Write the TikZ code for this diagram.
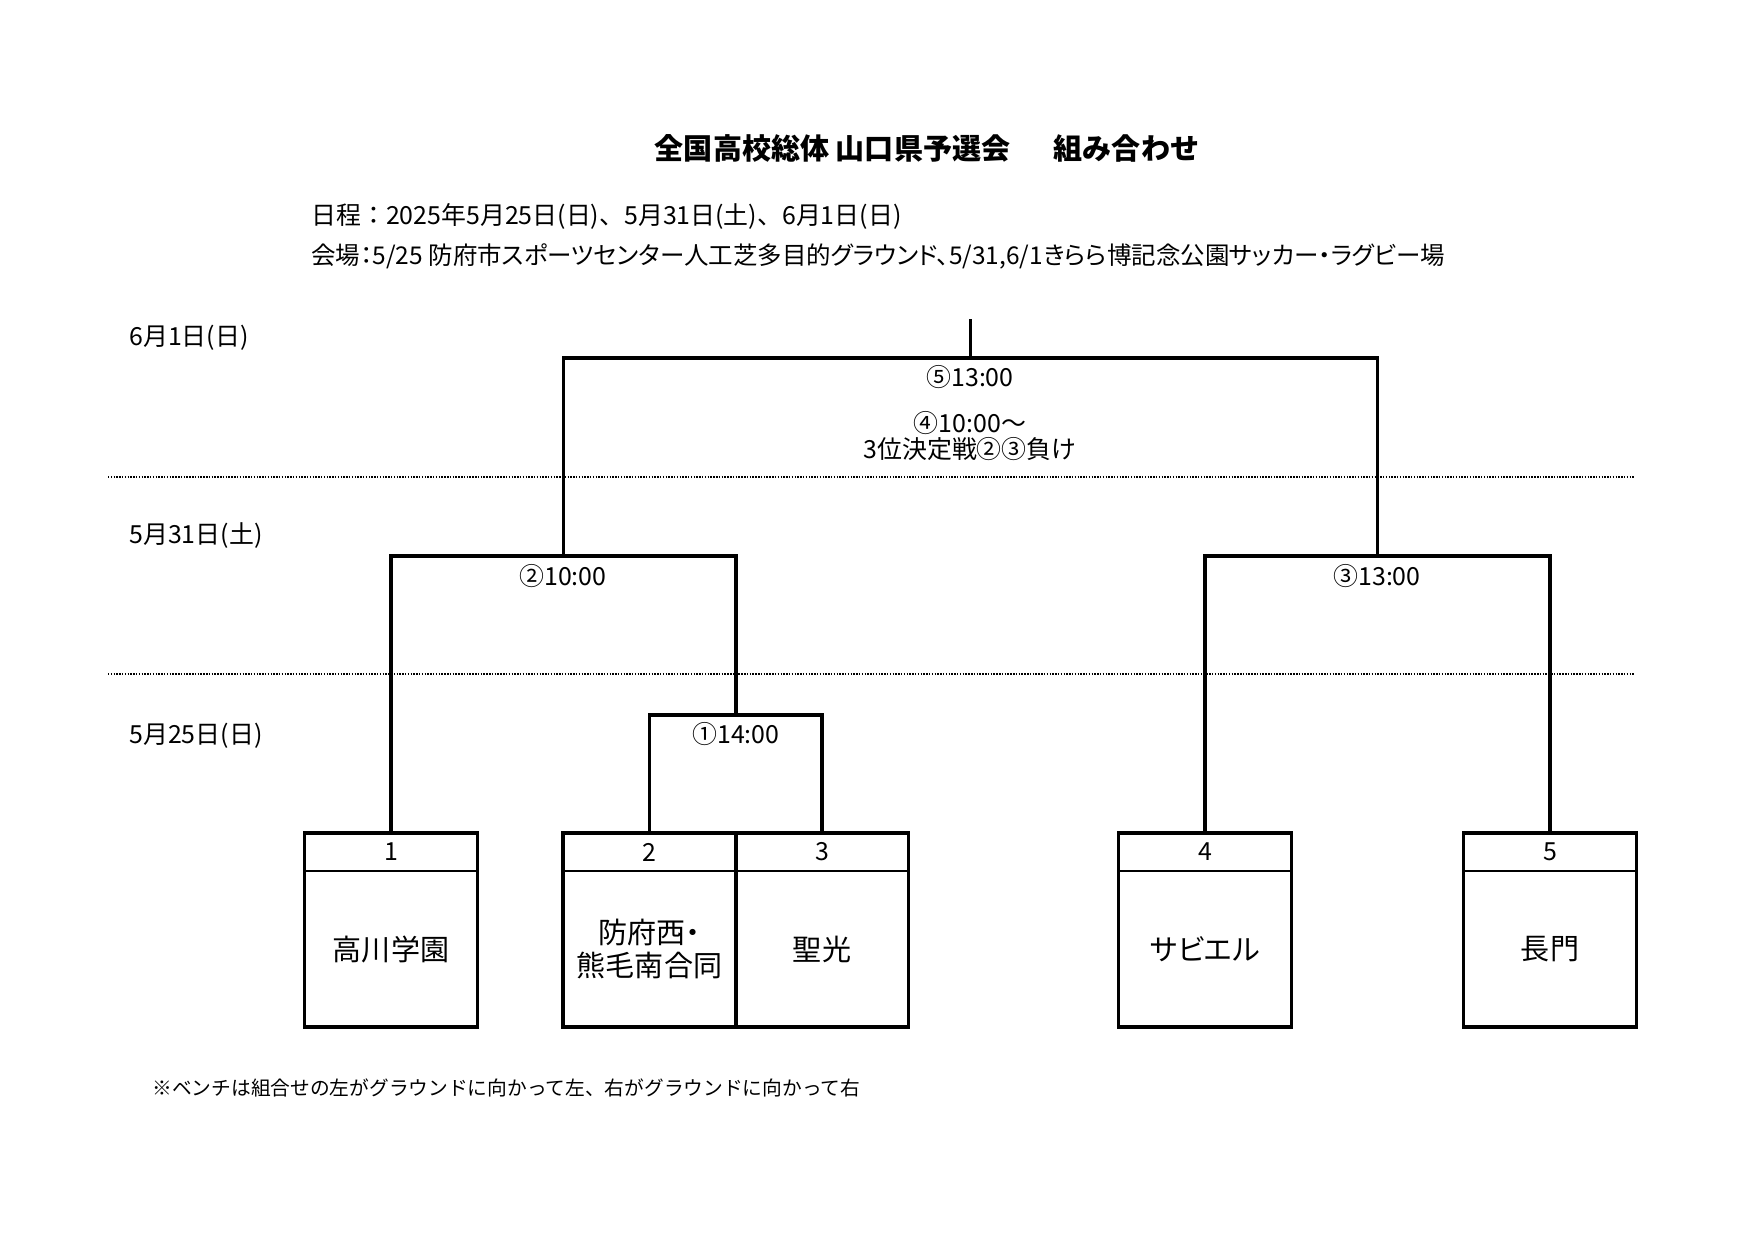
\documentclass[tikz,border=0pt]{standalone}
\usepackage{fontspec}
\setmainfont{Noto Sans CJK JP}
\newfontfamily\palt[RawFeature=+palt]{Noto Sans CJK JP}
\usetikzlibrary{positioning}
\tikzset{
  bline/.style={line width=1.8pt},
  divline/.style={line width=1.2pt},
  dotline/.style={line width=1.1pt,dash pattern=on 0.7pt off 0.65pt},
  hdr/.style={minimum width=29.29mm,minimum height=6.43mm,inner sep=0pt,outer sep=0pt,font=\fontsize{12}{14}\selectfont},
  team/.style={minimum width=29.29mm,minimum height=26.42mm,inner sep=0pt,outer sep=0pt,align=center,font=\fontsize{14}{16.3}\selectfont},
  lbl/.style={inner sep=0pt,font=\fontsize{12}{14}\selectfont},
}
\begin{document}
\begin{tikzpicture}[x=0.16933mm,y=-0.16933mm]
\useasboundingbox (0,0) rectangle (1754,1240);
\node[inner sep=0pt,font=\bfseries\fontsize{14}{16}\selectfont] (title) at (927,148) {全国高校総体 山口県予選会\hspace{1.5em}組み合わせ};
\node[lbl,anchor=west] (sched) at (311,216) {日程：2025年5月25日(日)、5月31日(土)、6月1日(日)};
\node[lbl,anchor=west,font=\palt\fontsize{11.8}{14}\selectfont] (venue) at (311,256) {会場：5/25 防府市スポーツセンター人工芝多目的グラウンド、5/31,6/1きらら博記念公園サッカー・ラグビー場};
\node[lbl,anchor=west] (day3) at (129,338) {6月1日(日)};
\node[lbl,anchor=west] (day2) at (129,536) {5月31日(土)};
\node[lbl,anchor=west] (day1) at (129,736) {5月25日(日)};
\draw[dotline] (108,477) -- (1635,477);
\draw[dotline] (108,674) -- (1635,674);
\node[hdr] (h1) at (391,852) {1};
\node[team,below=0pt of h1] (t1) {高川学園};
\node[hdr] (h2) at (649.5,852) {2};
\node[team,below=0pt of h2] (t2) {防府西{\palt ・}\\熊毛南合同};
\node[hdr] (h3) at (822,852) {3};
\node[team,below=0pt of h3] (t3) {聖光};
\node[hdr] (h4) at (1205,852) {4};
\node[team,below=0pt of h4,font=\palt\fontsize{14}{16.3}\selectfont] (t4) {サビエル};
\node[hdr] (h5) at (1550,852) {5};
\node[team,below=0pt of h5] (t5) {長門};
\draw[bline] (h1.north west) rectangle (t1.south east);
\draw[bline] (h2.north west) rectangle (t2.south east);
\draw[bline] (h3.north west) rectangle (t3.south east);
\draw[bline] (h4.north west) rectangle (t4.south east);
\draw[bline] (h5.north west) rectangle (t5.south east);
\draw[divline] (h1.south west) -- (h1.south east);
\draw[divline] (h2.south west) -- (h3.south east);
\draw[divline] (h4.south west) -- (h4.south east);
\draw[divline] (h5.south west) -- (h5.south east);
\coordinate (m1) at (735.75,715);
\coordinate (m2) at (563.4,556);
\coordinate (m3) at (1377.5,556);
\coordinate (m5) at (970.4,358);
\coordinate (top) at (970.4,319);
\draw[bline] (h2.north) |- (m1) -| (h3.north);
\draw[bline] (h1.north) |- (m2) -| (m1);
\draw[bline] (h4.north) |- (m3) -| (h5.north);
\draw[bline] (m2) |- (m5) -| (m3);
\draw[bline] (m5) -- (top);
\node[lbl] (g1) at (736,734) {①14:00};
\node[lbl] (g2) at (563,576) {②10:00};
\node[lbl] (g3) at (1377,576) {③13:00};
\node[lbl] (g5) at (970,377) {⑤13:00};
\node[lbl] (g4) at (970,423) {④10:00～};
\node[lbl] (g4b) at (970,449) {3位決定戦②③負け};
\node[inner sep=0pt,anchor=west,font=\fontsize{9.5}{11}\selectfont] (note) at (152,1088) {※ベンチは組合せの左がグラウンドに向かって左、右がグラウンドに向かって右};
\end{tikzpicture}
\end{document}
